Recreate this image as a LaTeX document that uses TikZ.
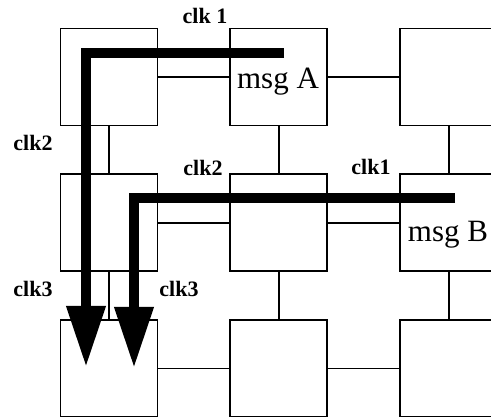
\documentclass[tikz,border=0pt]{standalone}
\usepackage{fontspec}
\setmainfont{Liberation Serif}
\usetikzlibrary{positioning,arrows.meta}

\begin{document}
\begin{tikzpicture}[
  x=1pt, y=-1pt,
  node distance=47pt and 71pt,
  box/.style={draw, line width=1.8pt, minimum width=97pt, minimum height=97pt, inner sep=0pt},
  link/.style={line width=1.8pt},
  route/.style={line width=10pt, -{Triangle[length=61pt, width=37pt]}},
  clk/.style={font=\fontsize{22}{24}\selectfont\bfseries, anchor=base, inner sep=0pt},
  msg/.style={font=\fontsize{31}{33}\selectfont, anchor=base, inner sep=0pt}
]
\useasboundingbox (0,0) rectangle (491,417);
\clip (0,0) rectangle (491,417);
% ---- mesh of routers ----
\node[box] (n11) at (109,77) {};
\node[box, right=of n11] (n12) {};
\node[box, right=of n12] (n13) {};
\node[box, below=of n11] (n21) {};
\node[box, right=of n21] (n22) {};
\node[box, right=of n22] (n23) {};
\node[box, below=of n21] (n31) {};
\node[box, right=of n31] (n32) {};
\node[box, right=of n32] (n33) {};
\draw[link] (n11) -- (n12);
\draw[link] (n12) -- (n13);
\draw[link] (n21) -- (n22);
\draw[link] (n22) -- (n23);
\draw[link] (n31) -- (n32);
\draw[link] (n32) -- (n33);
\draw[link] (n11) -- (n21);
\draw[link] (n21) -- (n31);
\draw[link] (n12) -- (n22);
\draw[link] (n22) -- (n32);
\draw[link] (n13) -- (n23);
\draw[link] (n23) -- (n33);
% ---- messages ----
\node[msg] (msgA) at (278,89) {msg A};
\node[msg] (msgB) at (448,242) {msg B};
\coordinate (srcA) at (284,53);
\coordinate (dstA) at (86,367);
\coordinate (srcB) at (455,198);
\coordinate (dstB) at (134,368);
\draw[route] (srcA) -| (dstA);
\draw[route] (srcB) -| (dstB);
% ---- clock labels ----
\node[clk] (c1a) at (205,24) {clk 1};
\node[clk] (c2a) at (33,151) {clk2};
\node[clk] (c2b) at (203,176) {clk2};
\node[clk] (c1b) at (371,175) {clk1};
\node[clk] (c3a) at (33,297) {clk3};
\node[clk] (c3b) at (179,297) {clk3};
\end{tikzpicture}
\end{document}
